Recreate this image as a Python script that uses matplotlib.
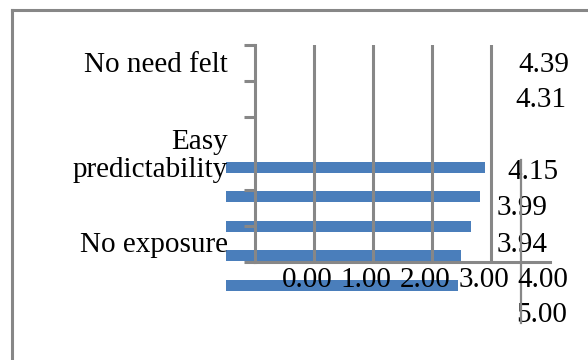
import matplotlib
matplotlib.use("Agg")
import matplotlib.pyplot as plt
from matplotlib.lines import Line2D
from matplotlib.transforms import blended_transform_factory

# data
values = [4.39, 4.31, 4.15, 3.99, 3.94]
cat_labels = ["No need felt", "Easy\npredictability", "No exposure"]
cat_pos = [5.45, 2.93, 0.47]
tick_labels = ["0.00", "1.00", "2.00", "3.00", "4.00", "5.00"]

# where the (displaced) value labels sit, in the axis frame
val_x = [4.46, 4.41, 4.27, 4.10, 4.10]
val_y = [5.45, 4.48, 2.49, 1.49, 0.47]

W, H = 588, 360
grey = "#878787"
blue = "#4A7EBB"

plt.rcParams["font.family"] = ["Liberation Serif", "DejaVu Serif"]
fig = plt.figure(figsize=(W / 100, H / 100), dpi=100)

# outer frame (left and top edge only, rest is off the picture)
fig.add_artist(Line2D([12 / W, 12 / W], [0, 1 - 10 / H], color=grey, lw=2.2))
fig.add_artist(Line2D([12 / W, 1], [1 - 10 / H, 1 - 10 / H], color=grey, lw=2.2))

# bars live on their own axes, shifted from the grid
bax = fig.add_axes([226 / W, 1 - 299.8 / H, 295 / W, 147 / H])
bax.barh(range(len(values)), values, height=0.37, color=blue)
bax.set_xlim(0, 5)
bax.set_ylim(4.5, -0.5)
bax.axis("off")
bax.set_zorder(1)

# main frame with grid
ax = fig.add_axes([255 / W, 1 - 262 / H, 295 / W, 217 / H])
ax.set_zorder(2)
ax.patch.set_alpha(0)
ax.set_xlim(0, 5)
ax.set_ylim(0, 6)
for s in ["top", "right"]:
    ax.spines[s].set_visible(False)
for s in ["left", "bottom"]:
    ax.spines[s].set_color(grey)
    ax.spines[s].set_linewidth(2.2)
ax.set_xticks([])
ax.set_yticks([0, 1, 2, 4, 5, 6])
ax.set_yticklabels([])
ax.tick_params(axis="y", direction="out", length=8, width=2.2, color=grey)
for gx in [1, 2, 3, 4]:
    ax.axvline(gx, color=grey, lw=2.2, zorder=3)

fs = 21
tr = blended_transform_factory(ax.transAxes, ax.transData)
for lab, y in zip(cat_labels, cat_pos):
    ax.text(-0.092, y, lab, transform=tr, ha="right", va="center",
            fontsize=fs, linespacing=1.1, multialignment="right")

for v, x, y in zip(values, val_x, val_y):
    ax.text(x, y, f"{v:.2f}", ha="left", va="center", fontsize=fs, clip_on=False)

# x tick labels, wrapped onto two rows
for i, lab in enumerate(tick_labels[:5]):
    ax.text(i + 0.88, -0.5, lab, ha="center", va="center", fontsize=fs, zorder=5)
ax.text(4.86, -1.47, tick_labels[5], ha="center", va="center", fontsize=fs)

# stray vertical line through the value labels
ax.plot([4.51, 4.51], [2.82, -1.69], color=grey, lw=1.6, clip_on=False, zorder=4)

fig.savefig("out.png", dpi=100)
